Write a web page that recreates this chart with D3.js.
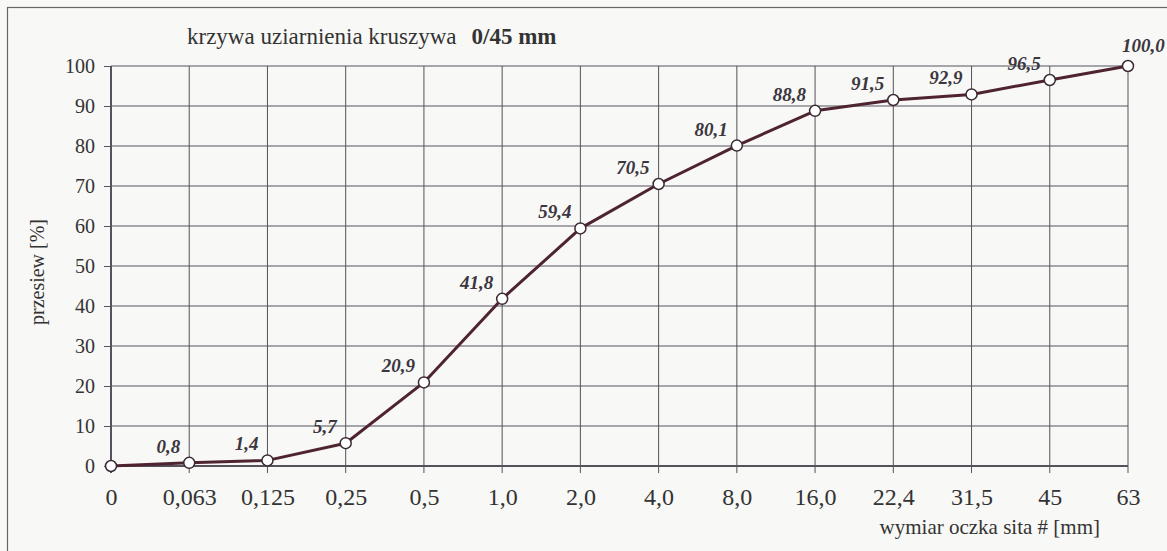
<!DOCTYPE html>
<html>
<head>
<meta charset="utf-8">
<script src="https://cdn.jsdelivr.net/npm/d3@7"></script>
<style>
  body { margin: 0; background: #f8f8f6; }
  svg { display: block; font-family: "Liberation Serif", "Times New Roman", serif; }
</style>
</head>
<body>
<div id="chart"></div>
<script>
// Sieve sizes (category labels) and passing percentages
const sieves = ['0', '0,063', '0,125', '0,25', '0,5', '1,0', '2,0', '4,0', '8,0', '16,0', '22,4', '31,5', '45', '63'];
const passing = [0, 0.8, 1.4, 5.7, 20.9, 41.8, 59.4, 70.5, 80.1, 88.8, 91.5, 92.9, 96.5, 100.0];
const yTicks = [0, 10, 20, 30, 40, 50, 60, 70, 80, 90, 100];

const W = 1167, H = 551;
const margin = { top: 66, right: 39, bottom: 85, left: 111 };

const svg = d3.select('#chart')
    .append('svg')
    .attr('width', W)
    .attr('height', H);

// outer frame (cropped at right and bottom like the scan)
svg.append('rect')
    .attr('x', 7.5).attr('y', 7.5)
    .attr('width', W + 10).attr('height', H + 10)
    .attr('fill', 'none')
    .attr('stroke', '#666')
    .attr('stroke-width', 1.2);

const x = d3.scalePoint()
    .domain(sieves)
    .range([margin.left, W - margin.right]);

const y = d3.scaleLinear()
    .domain([0, 100])
    .range([H - margin.bottom, margin.top]);

const fmt = v => v.toFixed(1).replace('.', ',');
const points = sieves.map((s, i) => ({ s, v: passing[i], i }));

// grid
const grid = svg.append('g').attr('stroke', '#55525c').attr('stroke-width', 1);
grid.selectAll('.hg')
    .data(yTicks)
    .enter().append('line')
    .attr('x1', x.range()[0]).attr('x2', x.range()[1])
    .attr('y1', d => y(d)).attr('y2', d => y(d))
    .attr('stroke-width', d => d === 0 ? 2 : 1);
grid.selectAll('.vg')
    .data(sieves)
    .enter().append('line')
    .attr('x1', d => x(d)).attr('x2', d => x(d))
    .attr('y1', y(100)).attr('y2', y(0) + 7)
    .attr('stroke-width', (d, i) => i === 0 ? 2 : 1);

// y axis
const yAxis = d3.axisLeft(y)
    .tickValues(yTicks)
    .tickSize(7)
    .tickPadding(9);
const gy = svg.append('g')
    .attr('transform', `translate(${margin.left},0)`)
    .call(yAxis);
gy.select('.domain').remove();
gy.selectAll('line').attr('stroke', '#55525c');
gy.selectAll('text')
    .attr('font-size', 20)
    .attr('font-family', '"Liberation Serif", serif')
    .attr('fill', '#333');

// x axis labels
const xAxis = d3.axisBottom(x).tickSize(0).tickPadding(22);
const gx = svg.append('g')
    .attr('transform', `translate(0,${y(0)})`)
    .call(xAxis);
gx.select('.domain').remove();
gx.selectAll('text')
    .attr('font-size', 24)
    .attr('font-family', '"Liberation Serif", serif')
    .attr('fill', '#333');

// curve
const line = d3.line()
    .x(d => x(d.s))
    .y(d => y(d.v));

svg.append('path')
    .datum(points)
    .attr('fill', 'none')
    .attr('stroke', '#4e2430')
    .attr('stroke-width', 3)
    .attr('stroke-linejoin', 'round')
    .attr('d', line);

svg.selectAll('.pt')
    .data(points)
    .enter().append('circle')
    .attr('cx', d => x(d.s))
    .attr('cy', d => y(d.v))
    .attr('r', 5.5)
    .attr('fill', '#fff')
    .attr('stroke', '#3a2a33')
    .attr('stroke-width', 1.5);

// value labels
const last = points.length - 1;
svg.selectAll('.lbl')
    .data(points.filter(d => d.i > 0))
    .enter().append('text')
    .attr('x', d => x(d.s) + (d.i === last ? -6 : -9))
    .attr('y', d => y(d.v) + (d.i === last ? -14 : -10))
    .attr('text-anchor', d => d.i === last ? 'start' : 'end')
    .attr('font-size', 19)
    .attr('font-weight', 'bold')
    .attr('font-style', 'italic')
    .attr('fill', '#3b3640')
    .text(d => fmt(d.v));

// title
const title = svg.append('text')
    .attr('x', 187)
    .attr('y', 44)
    .attr('font-size', 23)
    .attr('fill', '#333');
title.append('tspan').text('krzywa uziarnienia kruszywa');
title.append('tspan')
    .attr('dx', 15)
    .attr('font-weight', 'bold')
    .text('0/45 mm');

// axis titles
svg.append('text')
    .attr('transform', `translate(44,${(y(0) + y(100)) / 2 + 6}) rotate(-90)`)
    .attr('text-anchor', 'middle')
    .attr('font-size', 20)
    .attr('fill', '#333')
    .text('przesiew [%]');

svg.append('text')
    .attr('x', 1100)
    .attr('y', 534)
    .attr('text-anchor', 'end')
    .attr('font-size', 21)
    .attr('fill', '#333')
    .text('wymiar oczka sita # [mm]');
</script>
</body>
</html>
